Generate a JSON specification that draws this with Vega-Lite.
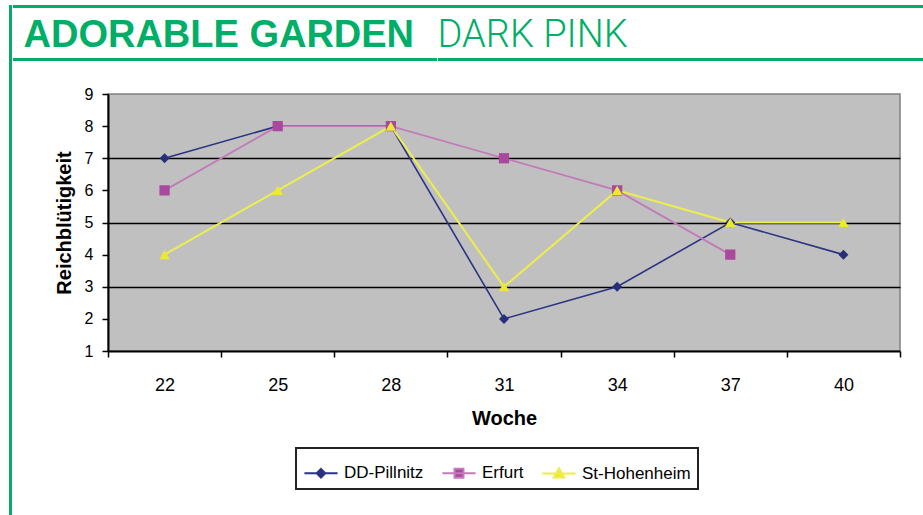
{
  "$schema": "https://vega.github.io/schema/vega-lite/v6.json",
  "background": "white",
  "padding": {"left": 8, "top": 4, "right": 0, "bottom": 0},
  "config": {"font": "Liberation Sans", "view": {"stroke": null}, "concat": {"spacing": 0}},
  "datasets": {
    "blank": [{"k": 1}],
    "scores": [
      {"woche": 22, "station": "DD-Pillnitz", "wert": 7},
      {"woche": 25, "station": "DD-Pillnitz", "wert": 8},
      {"woche": 28, "station": "DD-Pillnitz", "wert": 8},
      {"woche": 31, "station": "DD-Pillnitz", "wert": 2},
      {"woche": 34, "station": "DD-Pillnitz", "wert": 3},
      {"woche": 37, "station": "DD-Pillnitz", "wert": 5},
      {"woche": 40, "station": "DD-Pillnitz", "wert": 4},
      {"woche": 22, "station": "Erfurt", "wert": 6},
      {"woche": 25, "station": "Erfurt", "wert": 8},
      {"woche": 28, "station": "Erfurt", "wert": 8},
      {"woche": 31, "station": "Erfurt", "wert": 7},
      {"woche": 34, "station": "Erfurt", "wert": 6},
      {"woche": 37, "station": "Erfurt", "wert": 4},
      {"woche": 22, "station": "St-Hohenheim", "wert": 4},
      {"woche": 25, "station": "St-Hohenheim", "wert": 6},
      {"woche": 28, "station": "St-Hohenheim", "wert": 8},
      {"woche": 31, "station": "St-Hohenheim", "wert": 3},
      {"woche": 34, "station": "St-Hohenheim", "wert": 6},
      {"woche": 37, "station": "St-Hohenheim", "wert": 5},
      {"woche": 40, "station": "St-Hohenheim", "wert": 5}
    ]
  },
  "spacing": 0,
  "hconcat": [
    {
      "data": {"name": "blank"},
      "width": 3,
      "height": 511,
      "view": {"fill": "#00ae67", "stroke": null},
      "mark": {"type": "rule", "opacity": 0},
      "encoding": {}
    },
    {
      "spacing": 0,
      "vconcat": [
        {
          "data": {"name": "blank"},
          "width": 912,
          "height": 3,
          "view": {"fill": "#00ae67", "stroke": null},
          "mark": {"type": "rule", "opacity": 0},
          "encoding": {}
        },
        {
          "data": {"name": "blank"},
          "width": 1,
          "height": 7,
          "mark": {"type": "rule", "opacity": 0},
          "encoding": {}
        },
        {
          "spacing": 0,
          "hconcat": [
            {
              "data": {"name": "blank"},
              "width": 424,
              "height": 3,
              "view": {"fill": "#00ae67", "stroke": null},
              "title": {"text": "ADORABLE GARDEN", "anchor": "start", "dx": 11, "offset": 3, "font": "Liberation Sans", "fontWeight": "bold", "fontSize": 38, "color": "#00ae67"},
              "mark": {"type": "rule", "opacity": 0},
              "encoding": {}
            },
            {
              "data": {"name": "blank"},
              "width": 488,
              "height": 3,
              "view": {"fill": "#00ae67", "stroke": null},
              "title": {"text": "DARK PINK", "anchor": "start", "offset": 3, "font": "Roboto", "fontWeight": 300, "fontSize": 38, "color": "#00ae67"},
              "mark": {"type": "rule", "opacity": 0},
              "encoding": {}
            }
          ]
        },
        {
          "data": {"name": "blank"},
          "width": 1,
          "height": 23,
          "mark": {"type": "rule", "opacity": 0},
          "encoding": {}
        },
        {
          "spacing": 0,
          "resolve": {"legend": {"stroke": "independent"}},
          "hconcat": [
            {
              "data": {"name": "blank"},
              "width": 40,
              "height": 1,
              "mark": {"type": "rule", "opacity": 0},
              "encoding": {}
            },
            {
              "data": {"name": "scores"},
              "width": 792,
              "height": 257,
              "view": {"fill": "#c0c0c0", "stroke": "#808080", "strokeWidth": 1.5},
              "encoding": {
                "x": {
                  "field": "woche",
                  "type": "ordinal",
                  "scale": {"type": "band", "paddingInner": 0, "paddingOuter": 0},
                  "axis": {
                    "title": "Woche",
                    "labelAngle": 0,
                    "tickBand": "extent",
                    "grid": false,
                    "domainColor": "black",
                    "domainWidth": 2,
                    "tickColor": "black",
                    "tickWidth": 1.5,
                    "tickSize": 6,
                    "labelFontSize": 18,
                    "labelColor": "black",
                    "labelPadding": 19,
                    "titleFontSize": 20,
                    "titleFontWeight": "bold",
                    "titleColor": "black",
                    "titlePadding": 14
                  }
                },
                "y": {
                  "field": "wert",
                  "type": "quantitative",
                  "scale": {"domain": [1, 9], "nice": false, "zero": false},
                  "axis": {
                    "title": "Reichblütigkeit",
                    "values": [1, 2, 3, 4, 5, 6, 7, 8, 9],
                    "grid": true,
                    "gridColor": "black",
                    "gridWidth": 1.5,
                    "gridOpacity": {"condition": {"test": "datum.value == 3 || datum.value == 5 || datum.value == 7", "value": 1}, "value": 0},
                    "domainColor": "black",
                    "domainWidth": 2,
                    "tickColor": "black",
                    "tickWidth": 1.5,
                    "tickSize": 6,
                    "labelFontSize": 16,
                    "labelColor": "black",
                    "labelPadding": 9,
                    "titleFontSize": 20,
                    "titleFontWeight": "bold",
                    "titleColor": "black",
                    "titlePadding": 10
                  }
                }
              },
              "layer": [
                {
                  "mark": {"type": "line"},
                  "encoding": {
                    "stroke": {
                      "field": "station",
                      "type": "nominal",
                      "scale": {"domain": ["DD-Pillnitz", "Erfurt", "St-Hohenheim"], "range": ["#2b3383", "#c27ab8", "#eeee4a"]},
                      "legend": {
                        "title": null,
                        "orient": "none",
                        "legendX": 188,
                        "legendY": 354,
                        "direction": "horizontal",
                        "padding": 7,
                        "strokeColor": "#222222",
                        "labelFont": "Liberation Sans",
                        "labelFontSize": 17,
                        "labelColor": "black",
                        "labelOffset": 5,
                        "columnPadding": 14,
                        "symbolSize": 1100,
                        "symbolStrokeWidth": 2,
                        "encode": {
                          "legend": {"update": {"strokeWidth": {"value": 2}}},
                          "symbols": {
                            "update": {
                              "shape": {"signal": "datum.value === 'DD-Pillnitz' ? 'M-1,0H1M0,-0.26L0.26,0L0,0.26L-0.26,0Z' : (datum.value === 'Erfurt' ? 'M-1,0H1M-0.27,-0.27H0.27V0.27H-0.27Z' : 'M-1,0H1M0,-0.32L0.32,0.24H-0.32Z')"},
                              "fill": {"signal": "datum.value === 'DD-Pillnitz' ? '#263079' : (datum.value === 'Erfurt' ? '#a9489c' : '#ecea30')"},
                              "stroke": {"signal": "datum.value === 'DD-Pillnitz' ? '#2b3383' : (datum.value === 'Erfurt' ? '#c27ab8' : '#eeee4a')"},
                              "opacity": {"value": 1}
                            }
                          }
                        }
                      }
                    },
                    "strokeWidth": {
                      "field": "station",
                      "type": "ordinal",
                      "scale": {"domain": ["DD-Pillnitz", "Erfurt", "St-Hohenheim"], "range": [1.6, 2, 2.6]},
                      "legend": null
                    }
                  }
                },
                {
                  "mark": {"type": "point", "filled": true, "opacity": 1},
                  "encoding": {
                    "fill": {
                      "field": "station",
                      "type": "nominal",
                      "scale": {"domain": ["DD-Pillnitz", "Erfurt", "St-Hohenheim"], "range": ["#263079", "#a9489c", "#ecea30"]},
                      "legend": null
                    },
                    "shape": {
                      "field": "station",
                      "type": "nominal",
                      "scale": {"domain": ["DD-Pillnitz", "Erfurt", "St-Hohenheim"], "range": ["diamond", "square", "triangle-up"]},
                      "legend": null
                    },
                    "size": {
                      "field": "station",
                      "type": "ordinal",
                      "scale": {"domain": ["DD-Pillnitz", "Erfurt", "St-Hohenheim"], "range": [100, 110, 140]},
                      "legend": null
                    }
                  }
                }
              ]
            }
          ]
        }
      ]
    }
  ]
}
